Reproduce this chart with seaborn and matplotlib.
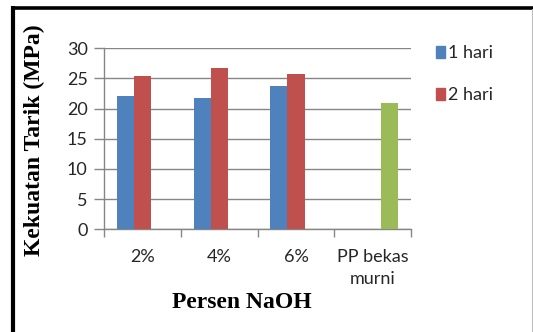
import numpy as np
import pandas as pd
import matplotlib
matplotlib.use("Agg")
import matplotlib.pyplot as plt
import seaborn as sns
from matplotlib.lines import Line2D

# Data
categories = ["2%", "4%", "6%", "PP bekas\nmurni"]
series_names = ["1 hari", "2 hari", "PP bekas murni"]
hari1 = [22.1, 21.7, 23.8, np.nan]
hari2 = [25.4, 26.7, 25.8, np.nan]
murni = [np.nan, np.nan, np.nan, 20.9]
y_ticks = [0, 5, 10, 15, 20, 25, 30]

rows = []
for name, vals in zip(series_names, [hari1, hari2, murni]):
    for cat, v in zip(categories, vals):
        if not np.isnan(v):
            rows.append({"Persen": cat, "Seri": name, "Nilai": v})
df = pd.DataFrame(rows)

colors = {"1 hari": "#4F81BD", "2 hari": "#C0504D", "PP bekas murni": "#9BBB59"}
grid_gray = "#868686"

sns.set_theme(style="white")
plt.rcParams["font.family"] = ["Lato", "DejaVu Sans"]

W, H = 533, 332
fig = plt.figure(figsize=(W / 100, H / 100), dpi=100)
ax = fig.add_axes([104.3 / W, 1 - 229.3 / H, (411 - 104.3) / W, (229.3 - 48.3) / H])

sns.barplot(data=df, x="Persen", y="Nilai", hue="Seri", order=categories,
            hue_order=series_names, palette=colors, width=0.67,
            linewidth=0, saturation=1, legend=False, ax=ax, zorder=3)

ax.set_ylim(0, 30)
ax.set_xlim(-0.5, len(categories) - 0.5)
ax.set_yticks(y_ticks)
ax.yaxis.grid(True, color=grid_gray, linewidth=1)
ax.set_axisbelow(True)
for side in ["top", "right"]:
    ax.spines[side].set_visible(False)
for side in ["left", "bottom"]:
    ax.spines[side].set_color(grid_gray)
    ax.spines[side].set_linewidth(1)

ax.set_xlabel("")
ax.set_ylabel("")
ax.set_xticks(range(len(categories)))
ax.set_xticklabels(categories, linespacing=1.5)
ax.set_xticks(np.arange(-0.5, len(categories)), minor=True)
ax.tick_params(axis="x", which="major", length=0, pad=14, labelsize=13, labelcolor="#262626")
ax.tick_params(axis="x", which="minor", length=6, width=1, color=grid_gray, direction="out", bottom=True)
ax.tick_params(axis="y", length=7, width=1, color=grid_gray, direction="out", left=True,
               pad=5, labelsize=13, labelcolor="#262626")

# Legend (two series)
handles = [plt.Rectangle((0, 0), 1, 1, color=colors[n]) for n in series_names[:2]]
fig.legend(handles, series_names[:2], loc="upper left",
           bbox_to_anchor=(429 / W, 1 - 38 / H), frameon=False, fontsize=13,
           handlelength=0.5, handleheight=0.7, handletextpad=0.15,
           labelspacing=1.45, borderaxespad=0)

# Axis titles
fig.text(34 / W, 1 - 140.5 / H, "Kekuatan Tarik (MPa)", rotation=90,
         ha="center", va="center", fontsize=17, fontweight="bold",
         family="Liberation Serif", color="black")
fig.text(242 / W, 1 - 302 / H, "Persen NaOH", ha="center", va="center",
         fontsize=17, fontweight="bold", family="Liberation Serif", color="black")

# Frame around the chart
fig.add_artist(Line2D([11 / W, 1], [1 - 7.5 / H, 1 - 7.5 / H], color="black",
                      linewidth=2.6, transform=fig.transFigure, solid_capstyle="butt"))
fig.add_artist(Line2D([13 / W, 13 / W], [0, 1 - 6 / H], color="black",
                      linewidth=3, transform=fig.transFigure, solid_capstyle="butt"))
fig.add_artist(Line2D([531.5 / W, 531.5 / W], [0, 1 - 9 / H], color="#bdbdbd",
                      linewidth=0.8, transform=fig.transFigure))

fig.savefig("out.png", dpi=100, facecolor="white")
